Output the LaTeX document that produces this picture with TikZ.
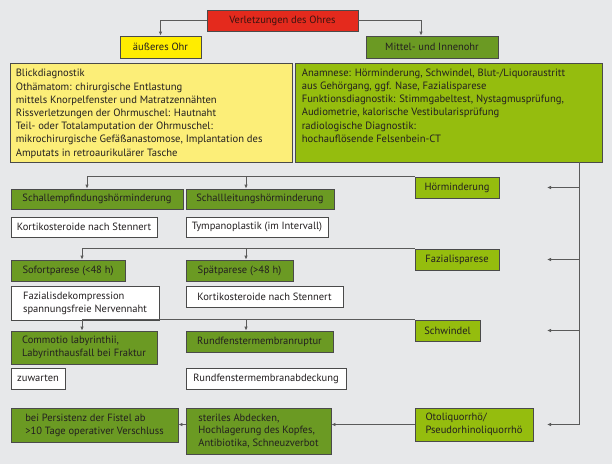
\documentclass[tikz,border=0pt]{standalone}
\usepackage{fontspec}
\setmainfont{PT Sans}
\usetikzlibrary{arrows.meta,calc}
\definecolor{bgc}{HTML}{E7E8EA}
\definecolor{redc}{HTML}{E42A1D}
\definecolor{redtxt}{HTML}{3A1410}
\definecolor{yel}{HTML}{FFED00}
\definecolor{lyel}{HTML}{FCEE78}
\definecolor{dgreen}{HTML}{6B9A23}
\definecolor{lime}{HTML}{95BD0E}
\definecolor{bordc}{HTML}{4A4A4A}
\definecolor{linec}{HTML}{5A5A5A}
\definecolor{txt}{HTML}{231F20}
\newcommand\bx[7]{\node[box,#6,minimum width={#4-#2},minimum height={#5-#3}] (#1) at ({(#2+#4)/2},{(#3+#5)/2}) {#7};}
\begin{document}
\begin{tikzpicture}[x=1pt,y=-1pt,
  box/.style={draw=bordc, line width=0.8pt, inner sep=0pt, font=\fontsize{10.5}{12.8}\selectfont, text=txt},
  infotext/.style={inner sep=0pt, anchor=north west, align=left, text=txt, font=\fontsize{10.6}{13.2}\selectfont},
  conn/.style={draw=linec, line width=0.8pt},
  arr/.style={conn, -{Latex[length=4pt,width=3.5pt]}}]
\fill[bgc] (0,0) rectangle (612,464);
\useasboundingbox (0,0) rectangle (612,464);

\bx{red}{207}{10}{358}{31}{fill=redc, text=redtxt}{Verletzungen des Ohres}
\bx{ext}{120}{36}{201}{58}{fill=yel}{äußeres Ohr}
\bx{mid}{366}{36}{498}{58}{fill=dgreen}{Mittel- und Innenohr}
\bx{extinfo}{10}{63}{292}{162}{fill=lyel}{}
\bx{midinfo}{295}{63}{602}{162}{fill=lime}{}
\node[infotext] (extinfoT) at ($(extinfo.north west)+(6,6.5)$) {Blickdiagnostik\\Othämatom: chirurgische Entlastung\\mittels Knorpelfenster und Matratzennähten\\Rissverletzungen der Ohrmuschel: Hautnaht\\Teil- oder Totalamputation der Ohrmuschel:\\mikrochirurgische Gefäßanastomose, Implantation des\\Amputats in retroaurikulärer Tasche};
\node[infotext] (midinfoT) at ($(midinfo.north west)+(7,6)$) {Anamnese: Hörminderung, Schwindel, Blut-/Liquoraustritt\\aus Gehörgang, ggf. Nase, Fazialisparese\\Funktionsdiagnostik: Stimmgabeltest, Nystagmusprüfung,\\Audiometrie, kalorische Vestibularisprüfung\\radiologische Diagnostik:\\hochauflösende Felsenbein-CT};

\bx{hoer}{415}{177}{499}{198}{fill=lime}{Hörminderung}
\bx{schE}{11}{189}{183}{209}{fill=dgreen}{Schallempfindungshörminderung}
\bx{schL}{186}{189}{334}{209}{fill=dgreen}{Schallleitungshörminderung}
\bx{kort1}{11}{217}{157}{237}{fill=white}{Kortikosteroide nach Stennert}
\bx{tymp}{186}{217}{328}{237}{fill=white}{Tympanoplastik (im Intervall)}
\bx{faz}{415}{249}{499}{270}{fill=lime}{Fazialisparese}
\bx{sof}{11}{260}{125}{281}{fill=dgreen}{Sofortparese (<48 h)}
\bx{spaet}{186}{260}{293}{281}{fill=dgreen}{Spätparese (>48 h)}
\bx{fazdek}{11}{286}{159}{320}{fill=white,align=left}{Fazialisdekompression\\spannungsfreie Nervennaht}
\bx{kort2}{186}{286}{343}{307}{fill=white}{Kortikosteroide nach Stennert}
\bx{schw}{415}{320}{480}{341}{fill=lime}{Schwindel}
\bx{comm}{11}{331}{157}{364}{fill=dgreen,align=left}{Commotio labyrinthii,\\Labyrinthausfall bei Fraktur}
\bx{rund}{186}{331}{333}{352}{fill=dgreen}{Rundfenstermembranruptur}
\bx{zuw}{11}{368}{65}{389}{fill=white}{zuwarten}
\bx{rundab}{186}{368}{346}{389}{fill=white}{Rundfenstermembranabdeckung}
\bx{oto}{415}{408}{533}{441}{fill=lime,align=left}{Otoliquorrhö/\\Pseudorhinoliquorrhö}
\bx{pers}{11}{408}{178}{442}{fill=dgreen,align=left}{bei Persistenz der Fistel ab\\>10 Tage operativer Verschluss}
\bx{steril}{186}{408}{331}{454}{fill=dgreen,align=left}{steriles Abdecken,\\Hochlagerung des Kopfes,\\Antibiotika, Schneuzverbot}

% top connectors
\draw[arr] (red.west) -| (ext.north);
\draw[arr] (red.east) -| ($(mid.north)+(-11,0)$);

% right vertical distributor
\coordinate (vx) at (579,0);
\coordinate (tipx) at (547,0);
\draw[conn] (vx |- midinfo.south) -- (vx |- oto.center);
\draw[arr] (vx |- hoer.center) -- (tipx |- hoer.center);
\draw[arr] (vx |- faz.center) -- (tipx |- faz.center);
\draw[arr] (vx |- schw.center) -- (tipx |- schw.center);
\draw[arr] (vx |- oto.center) -- (tipx |- oto.center);

% brackets
\coordinate (b1) at (87,0);
\coordinate (b2) at (82,0);
\coordinate (b3) at (246,0);
\draw[conn] (hoer.north west) -- (b1 |- hoer.north west);
\draw[arr] (b1 |- hoer.north west) -- (b1 |- schE.north);
\draw[arr] (b3 |- hoer.north west) -- (b3 |- schL.north);

\draw[conn] (faz.north west) -- (b2 |- faz.north west);
\draw[arr] (b2 |- faz.north west) -- (b2 |- sof.north);
\draw[arr] (b3 |- faz.north west) -- (b3 |- spaet.north);

\draw[conn] (schw.north west) -- (b2 |- schw.north west);
\draw[arr] (b2 |- schw.north west) -- (b2 |- comm.north);
\draw[arr] (b3 |- schw.north west) -- (b3 |- rund.north);

% Otoliquorrhoe chain
\draw[arr] (oto.west) -- (oto.west -| steril.east);
\draw[arr] (steril.west |- oto.west) -- (oto.west -| pers.east);
\end{tikzpicture}
\end{document}
